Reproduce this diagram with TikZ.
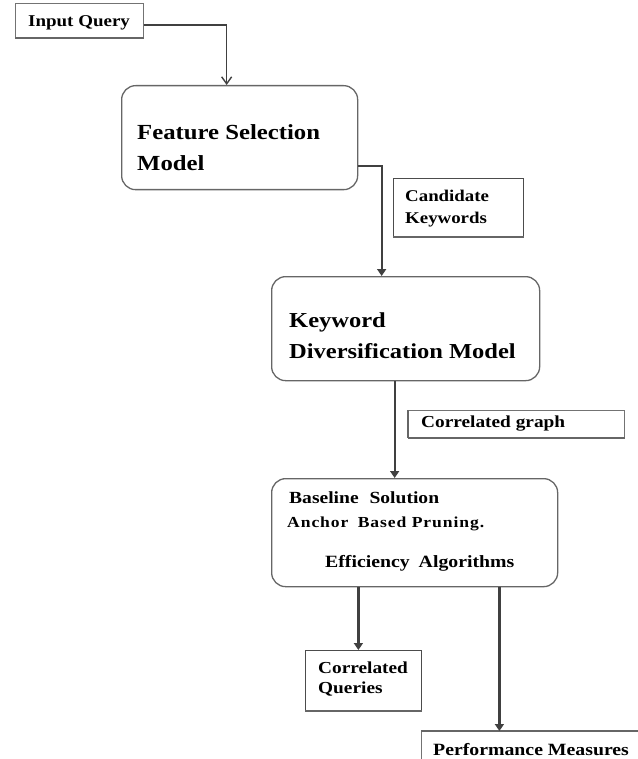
\documentclass[tikz,border=0pt]{standalone}
\usepackage{fontspec}
\setmainfont{Liberation Serif}[FakeStretch=1.15]
\newfontfamily\spacedfont{Liberation Serif}[FakeStretch=1.15, LetterSpace=6]
\usetikzlibrary{arrows.meta}
\tikzset{
  box/.style={draw=black!55, line width=0.8pt, inner sep=0pt, anchor=north west},
  rbox/.style={draw=black!60, line width=1.3pt, rounded corners=14pt, inner sep=0pt, anchor=north west},
  shadowline/.style={draw=black!60, line width=2.4pt},
  txt/.style={inner sep=0pt, anchor=base west, align=left, font=\bfseries},
  openarr/.style={draw=black!75, line width=1.4pt, -{Straight Barb[length=7pt,width=10pt]}},
  arr/.style={draw=black!75, line width=2.2pt, -{Triangle[length=7pt,width=9pt]}},
}
\begin{document}
\begin{tikzpicture}[x=1pt,y=-1pt]
\useasboundingbox (0,0) rectangle (637,759);
% boxes
\node[box, minimum width=128pt, minimum height=34pt] (iq) at (15,3) {};
\node[rbox, minimum width=236pt, minimum height=104pt] (fsm) at (121,85) {};
\node[box, draw=black!70, minimum width=130pt, minimum height=58pt] (ck) at (393,178) {};
\node[rbox, minimum width=268pt, minimum height=104pt] (kdm) at (271,276) {};
\node[box, minimum width=216pt, minimum height=27pt] (cg) at (408,410) {};
\node[rbox, minimum width=286pt, minimum height=108pt] (bsl) at (271,478) {};
\node[box, draw=black!70, minimum width=116pt, minimum height=60pt] (cq) at (305,650) {};
\node[box, minimum width=220pt, minimum height=30pt] (pm) at (421,731) {};
% shadows
\draw[shadowline] (iq.south west) -- (iq.south east);
\draw[shadowline] (ck.south west) -- (ck.south east);
\draw[shadowline] (cg.south west) -- (cg.south east);
\draw[shadowline, line width=1.6pt] (cg.south west) -- (cg.north west);
\draw[shadowline] (cq.south west) -- (cq.south east);
\draw[shadowline, line width=1.8pt] (pm.north west) -- (pm.north east);
% texts (base anchor = baseline of the last line)
\node[txt, font=\bfseries\fontsize{16.5}{18}\selectfont] (iqT) at (28,27) {Input Query};
\node[txt, font=\bfseries\fontsize{21.5}{31}\selectfont] (fsmT) at (137,171) {Feature Selection\\Model};
\node[txt, font=\bfseries\fontsize{16.4}{21}\selectfont] (ckT) at (405,223) {Candidate\\Keywords};
\node[txt, font=\bfseries\fontsize{21.3}{31}\selectfont] (kdmT) at (289,358) {Keyword\\Diversification Model};
\node[txt, font=\bfseries\fontsize{16.8}{18}\selectfont] (cgT) at (421,427) {Correlated graph};
\node[txt, font=\bfseries\fontsize{17}{18}\selectfont] (bsT) at (289,503) {Baseline\hspace{6pt} Solution};
\node[txt, font=\spacedfont\bfseries\fontsize{15.3}{18}\selectfont] (abT) at (287,527) {Anchor\hspace{4pt} Based Pruning.};
\node[txt, font=\bfseries\fontsize{17.2}{18}\selectfont] (eaT) at (325,567) {Efficiency\hspace{4pt} Algorithms};
\node[txt, font=\bfseries\fontsize{16.8}{20}\selectfont] (cqT) at (318,693) {Correlated\\Queries};
\node[txt, font=\bfseries\fontsize{17.2}{18}\selectfont] (pmT) at (433,755) {Performance Measures};
% connectors
\draw[openarr] ([yshift=-4.5pt]iq.east) -| ([xshift=-13pt]fsm.north);
\draw[arr] ([yshift=-28pt]fsm.east) -| ([xshift=-24pt]kdm.north);
\draw[arr] ([xshift=-11pt]kdm.south) -- ([xshift=-11pt]kdm.south |- bsl.north);
\draw[arr] ([xshift=-5pt]cq.north |- bsl.south) -- ([xshift=-5pt]cq.north);
\draw[arr] ([xshift=-32pt]pm.north |- bsl.south) -- ([xshift=-32pt]pm.north);
\end{tikzpicture}
\end{document}
